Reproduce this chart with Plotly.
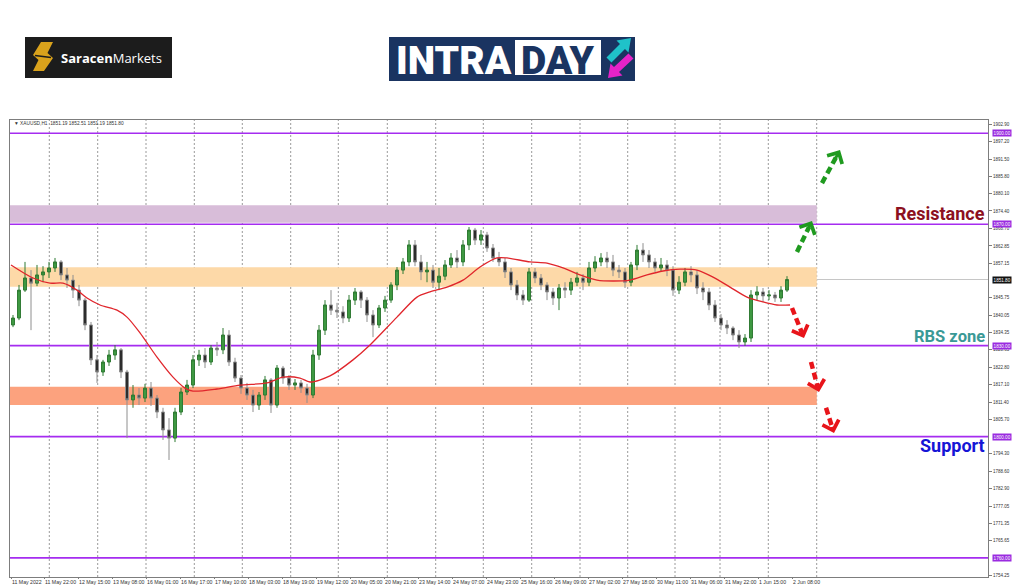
import plotly.graph_objects as go

# ------------------------------------------------------------------ data
# candles (one candle per 3 hourly bars), position on the hourly-bar axis
bar_index = list(range(1, 389, 3))
open_ = [1836.8, 1839.1, 1848.3, 1852.3, 1850.6, 1853.3, 1854.3, 1855.6, 1857.6, 1853.3,
         1851.6, 1848.3, 1845.0, 1836.8, 1825.3, 1821.3, 1824.6, 1826.9, 1828.6, 1821.3,
         1812.1, 1813.7, 1812.7, 1816.0, 1812.7, 1808.1, 1802.2, 1799.5, 1808.1, 1814.7,
         1817.0, 1825.3, 1826.9, 1824.6, 1829.2, 1828.6, 1833.5, 1824.6, 1819.3, 1816.0,
         1813.7, 1810.4, 1813.7, 1818.7, 1810.4, 1822.6, 1819.3, 1817.0, 1817.7, 1816.0,
         1813.7, 1826.9, 1835.1, 1843.4, 1841.7, 1841.1, 1839.1, 1845.0, 1847.7, 1845.0,
         1840.1, 1836.8, 1842.4, 1845.0, 1850.0, 1854.9, 1857.6, 1863.2, 1857.6, 1854.3,
         1854.9, 1850.9, 1852.9, 1856.6, 1858.9, 1857.6, 1863.2, 1868.1, 1864.8, 1866.5,
         1862.2, 1858.9, 1857.6, 1854.3, 1850.0, 1846.7, 1845.0, 1854.3, 1852.3, 1850.0,
         1847.7, 1845.7, 1849.0, 1848.3, 1850.9, 1852.3, 1850.9, 1855.6, 1857.6, 1858.9,
         1857.6, 1854.9, 1854.3, 1850.9, 1856.6, 1861.5, 1859.9, 1857.6, 1855.6, 1856.6,
         1854.9, 1848.3, 1850.9, 1854.3, 1853.3, 1849.0, 1847.7, 1843.4, 1839.1, 1836.8,
         1835.8, 1833.5, 1831.2, 1832.5, 1846.7, 1847.7, 1846.4, 1846.7, 1845.7, 1848.3]
high = [1840.1, 1850.0, 1857.6, 1854.9, 1856.6, 1856.2, 1857.6, 1858.9, 1858.2, 1855.6,
        1853.3, 1850.0, 1845.7, 1837.8, 1826.9, 1825.3, 1828.6, 1830.2, 1829.2, 1822.0,
        1817.0, 1816.0, 1817.4, 1818.0, 1813.7, 1809.5, 1806.1, 1809.5, 1816.0, 1818.7,
        1826.9, 1828.6, 1829.2, 1830.2, 1831.2, 1835.8, 1835.1, 1826.0, 1820.3, 1817.7,
        1815.4, 1814.7, 1820.0, 1819.3, 1823.6, 1823.3, 1820.3, 1819.0, 1818.7, 1817.4,
        1828.6, 1836.8, 1845.0, 1848.3, 1844.1, 1843.0, 1846.7, 1849.0, 1848.3, 1846.0,
        1841.7, 1843.4, 1846.4, 1850.9, 1855.9, 1858.9, 1864.8, 1864.8, 1859.9, 1857.6,
        1856.6, 1855.6, 1858.2, 1860.5, 1861.5, 1864.8, 1869.1, 1868.8, 1868.1, 1867.5,
        1863.5, 1860.9, 1858.9, 1855.6, 1851.6, 1848.3, 1855.6, 1855.6, 1853.6, 1850.9,
        1849.0, 1850.3, 1850.9, 1852.3, 1854.3, 1853.6, 1857.6, 1859.5, 1860.5, 1860.9,
        1859.9, 1856.6, 1855.6, 1857.6, 1863.2, 1863.8, 1861.5, 1858.9, 1858.9, 1858.2,
        1856.2, 1852.9, 1855.6, 1856.2, 1854.9, 1850.9, 1849.0, 1845.0, 1840.4, 1838.4,
        1836.4, 1835.1, 1833.8, 1848.3, 1849.6, 1849.0, 1848.3, 1847.7, 1849.6, 1852.9]
low = [1836.1, 1838.4, 1847.7, 1835.1, 1849.6, 1850.9, 1852.3, 1854.3, 1851.6, 1849.0,
       1845.7, 1843.0, 1835.1, 1823.6, 1817.7, 1820.0, 1823.3, 1825.3, 1819.3, 1799.5,
       1809.5, 1810.4, 1811.4, 1810.1, 1806.1, 1798.9, 1792.3, 1798.2, 1807.1, 1813.7,
       1816.0, 1823.3, 1822.6, 1823.6, 1826.6, 1827.2, 1823.3, 1818.0, 1814.1, 1812.1,
       1808.1, 1808.8, 1812.1, 1807.8, 1809.5, 1817.4, 1815.4, 1815.4, 1814.4, 1811.1,
       1812.7, 1825.3, 1833.5, 1840.1, 1839.1, 1837.4, 1837.8, 1843.4, 1842.4, 1837.8,
       1832.8, 1835.8, 1841.1, 1844.1, 1848.3, 1853.6, 1856.2, 1856.2, 1851.6, 1850.9,
       1849.0, 1848.3, 1851.6, 1855.6, 1855.6, 1856.2, 1861.5, 1863.2, 1863.2, 1860.9,
       1857.6, 1856.2, 1852.3, 1848.3, 1845.0, 1843.4, 1844.4, 1850.6, 1848.3, 1845.0,
       1843.4, 1841.7, 1845.7, 1846.7, 1849.6, 1848.3, 1849.6, 1854.3, 1856.2, 1855.6,
       1852.9, 1852.3, 1849.0, 1849.6, 1854.9, 1857.6, 1855.6, 1854.3, 1854.3, 1852.9,
       1846.4, 1847.0, 1849.6, 1850.9, 1847.0, 1845.0, 1841.7, 1837.8, 1835.1, 1833.8,
       1831.8, 1829.2, 1829.9, 1831.2, 1845.0, 1844.4, 1845.0, 1844.4, 1844.4, 1847.7]
close = [1839.1, 1848.3, 1852.3, 1850.6, 1853.3, 1854.3, 1855.6, 1857.6, 1853.3, 1851.6,
         1848.3, 1845.0, 1836.8, 1825.3, 1821.3, 1824.6, 1826.9, 1828.6, 1821.3, 1812.1,
         1813.7, 1812.7, 1816.0, 1812.7, 1808.1, 1802.2, 1799.5, 1808.1, 1814.7, 1817.0,
         1825.3, 1826.9, 1824.6, 1829.2, 1828.6, 1833.5, 1824.6, 1819.3, 1816.0, 1813.7,
         1810.4, 1813.7, 1818.7, 1810.4, 1822.6, 1819.3, 1817.0, 1817.7, 1816.0, 1813.7,
         1826.9, 1835.1, 1843.4, 1841.7, 1841.1, 1839.1, 1845.0, 1847.7, 1845.0, 1840.1,
         1836.8, 1842.4, 1845.0, 1850.0, 1854.9, 1857.6, 1863.2, 1857.6, 1854.3, 1854.9,
         1850.9, 1852.9, 1856.6, 1858.9, 1857.6, 1863.2, 1868.1, 1864.8, 1866.5, 1862.2,
         1858.9, 1857.6, 1854.3, 1850.0, 1846.7, 1845.0, 1854.3, 1852.3, 1850.0, 1847.7,
         1845.7, 1849.0, 1848.3, 1850.9, 1852.3, 1850.9, 1855.6, 1857.6, 1858.9, 1857.6,
         1854.9, 1854.3, 1850.9, 1856.6, 1861.5, 1859.9, 1857.6, 1855.6, 1856.6, 1854.9,
         1848.3, 1850.9, 1854.3, 1853.3, 1849.0, 1847.7, 1843.4, 1839.1, 1836.8, 1835.8,
         1833.5, 1831.2, 1832.5, 1846.7, 1847.7, 1846.4, 1846.7, 1845.7, 1848.3, 1851.8]

# moving average (red line)
ma_index = [0, 11, 19.5, 26, 33, 38, 44.5, 53, 58, 64.5, 73, 81, 87, 91, 103, 114.5,
            128, 136, 144.5, 149.5, 159.5, 171, 179.5, 193, 203, 209.5, 218, 226,
            234.5, 243, 248, 259.5, 268, 276, 284.5, 293, 301, 309.5, 318, 326,
            334.5, 343, 351, 359.5, 368, 376, 383, 389.5]
ma_value = [1856.6, 1852.3, 1850.6, 1850.6, 1848.3, 1845.7, 1843.4, 1841.7, 1839.4, 1834.2,
            1826.2, 1819.6, 1816.0, 1815.0, 1815.7, 1817.0, 1817.7, 1819.6, 1819.3, 1818.0,
            1820.0, 1825.3, 1830.2, 1839.4, 1846.0, 1847.7, 1849.3, 1851.6, 1855.9, 1858.9,
            1858.9, 1857.6, 1857.2, 1855.6, 1853.3, 1851.6, 1851.3, 1851.6, 1853.3, 1854.6,
            1855.2, 1854.9, 1852.6, 1849.3, 1846.0, 1844.4, 1843.4, 1843.4]

x_tick_labels = ["11 May 2022", "11 May 22:00", "12 May 15:00", "13 May 08:00", "16 May 01:00",
                 "16 May 17:00", "17 May 10:00", "18 May 03:00", "18 May 19:00", "19 May 12:00",
                 "20 May 05:00", "20 May 21:00", "23 May 14:00", "24 May 07:00", "24 May 23:00",
                 "25 May 16:00", "26 May 09:00", "27 May 02:00", "27 May 18:00", "30 May 11:00",
                 "31 May 06:00", "31 May 22:00", "1 Jun 15:00", "2 Jun 08:00"]
y_tick_values = [1902.90, 1897.20, 1891.50, 1885.80, 1880.10, 1874.40, 1868.70, 1862.85,
                 1857.15, 1845.75, 1840.05, 1834.35, 1828.65, 1822.80, 1817.10, 1811.40,
                 1805.70, 1794.30, 1788.60, 1782.90, 1777.05, 1771.35, 1765.65, 1754.25]

level_prices = [1900.00, 1870.00, 1830.00, 1800.00, 1760.00]
last_price = 1851.80
header_text = "▼ XAUUSD,H1  1851.19 1852.51 1851.19 1851.80"

zone_low = [1870.5, 1849.4, 1810.4]
zone_high = [1876.3, 1855.8, 1816.4]
zone_colors = ["#d8bdd9", "#fdd9a8", "#fca27e"]
zone_end = 402.9

arrow_tail_x = [393.0, 405.5, 390.5, 400.0, 407.5]
arrow_tail_y = [1860.9, 1883.6, 1842.4, 1824.6, 1809.5]
arrow_head_x = [400.5, 414.5, 396.5, 404.0, 411.5]
arrow_head_y = [1871.1, 1894.5, 1832.5, 1814.7, 1801.2]
arrow_colors = ["#1f9a1f", "#1f9a1f", "#e8141a", "#e8141a", "#e8141a"]

zone_labels = ["Resistance", "RBS zone", "Support"]
zone_label_price = [1873.4, 1833.0, 1797.0]
zone_label_colors = ["#8c1020", "#3a9996", "#1515d6"]
zone_label_sizes = [18, 16.5, 18]

# ------------------------------------------------------------------ layout helpers
# the page body has an 8px margin, so the figure is drawn 8px smaller and
# everything is positioned in reference-picture pixels relative to the plot area
OFF = 8
W, H = 1024, 587
L, R, T, B = 10, 36, 120, 10
PW, PH = W - L - R, H - T - B


def PX(x):
    return (x - L) / PW


def PY(y):
    return (H - B - y) / PH


grid_x = [19.15, 43.35, 67.5, 91.65, 115.65, 139.85, 163.65, 188.15, 212.35, 236.15,
          260.35, 284.5, 308.35, 332.0, 354.5, 378.65, 402.85]

fig = go.Figure()

fig.add_trace(go.Candlestick(
    x=bar_index, open=open_, high=high, low=low, close=close,
    increasing=dict(fillcolor="#3f9a43", line=dict(color="#2f7a33", width=1)),
    decreasing=dict(fillcolor="#2b2b2b", line=dict(color="#8e8e8e", width=1)),
    whiskerwidth=0, showlegend=False, hoverinfo="skip"))

fig.add_trace(go.Scatter(
    x=ma_index, y=ma_value, mode="lines",
    line=dict(color="#e0262c", width=1.3, shape="spline", smoothing=0.8),
    showlegend=False, hoverinfo="skip"))

shapes = []
for lo, hi, col in zip(zone_low, zone_high, zone_colors):
    shapes.append(dict(type="rect", xref="x", yref="y", x0=-0.5, x1=zone_end, y0=lo, y1=hi,
                       fillcolor=col, line=dict(width=0), layer="below"))
for gx in grid_x:
    shapes.append(dict(type="line", xref="x", yref="paper", x0=gx, x1=gx, y0=0, y1=1,
                       line=dict(color="#9a9a9a", width=1, dash="2px,2px"), layer="below"))
shapes.append(dict(type="line", xref="paper", yref="y", x0=0, x1=1, y0=last_price, y1=last_price,
                   line=dict(color="#c6c6c6", width=1), layer="below"))
for lv in level_prices:
    shapes.append(dict(type="line", xref="paper", yref="y", x0=0, x1=1, y0=lv, y1=lv,
                       line=dict(color="#a52cf0", width=1.6), layer="below"))

annotations = []
# dashed arrows
for tx, ty, hx, hy, col in zip(arrow_tail_x, arrow_tail_y, arrow_head_x, arrow_head_y, arrow_colors):
    sx = tx + (hx - tx) * 0.8
    sy = ty + (hy - ty) * 0.8
    shapes.append(dict(type="line", xref="x", yref="y", x0=tx, y0=ty, x1=sx, y1=sy,
                       line=dict(color=col, width=4.5, dash="7px,4px"), layer="above"))
    bx = tx + (hx - tx) * 0.7
    by = ty + (hy - ty) * 0.7
    annotations.append(dict(x=hx, y=hy, ax=bx, ay=by, xref="x", yref="y", axref="x", ayref="y",
                            text="", showarrow=True, arrowhead=4, arrowsize=1.1, arrowwidth=3,
                            arrowcolor=col, standoff=0))

# zone labels
for txt, pr, col, sz in zip(zone_labels, zone_label_price, zone_label_colors, zone_label_sizes):
    annotations.append(dict(x=PX(987), y=pr, xref="paper", yref="y", xanchor="right",
                            yanchor="middle", text="<b>%s</b>" % txt, showarrow=False,
                            font=dict(family="Roboto", size=sz, color=col)))

# price boxes on the right axis
for lv in level_prices:
    annotations.append(dict(x=PX(992), y=lv, xref="paper", yref="y", xanchor="left",
                            yanchor="middle", text="%.2f" % lv, showarrow=False,
                            bgcolor="#9a2be0", borderpad=0.6,
                            font=dict(family="Liberation Sans", size=4.6, color="white")))
annotations.append(dict(x=PX(992), y=last_price, xref="paper", yref="y", xanchor="left",
                        yanchor="middle", text="%.2f" % last_price, showarrow=False,
                        bgcolor="#111111", borderpad=0.6,
                        font=dict(family="Liberation Sans", size=4.6, color="white")))

# header
annotations.append(dict(x=PX(12), y=PY(123.5), xref="paper", yref="paper", xanchor="left",
                        yanchor="middle", text=header_text, showarrow=False,
                        font=dict(family="Liberation Sans", size=4.8, color="#333333")))

# ---------------- logos
shapes.append(dict(type="rect", xref="paper", yref="paper", x0=PX(25), x1=PX(172),
                   y0=PY(78), y1=PY(37), fillcolor="#1c1c1c", line=dict(width=0), layer="above"))


def path(points):
    return "M " + " L ".join("%.5f,%.5f" % (PX(a), PY(b)) for a, b in points) + " Z"


s_pts = [(41, 42), (53, 42), (47.5, 53), (53, 58), (44, 71), (33, 71), (38.5, 60), (33, 55)]
shapes.append(dict(type="path", xref="paper", yref="paper", path=path(s_pts),
                   fillcolor="#d9a21c", line=dict(width=0), layer="above"))
shapes.append(dict(type="line", xref="paper", yref="paper", x0=PX(35), y0=PY(55.5),
                   x1=PX(51), y1=PY(57.5), line=dict(color="#1c1c1c", width=1.5), layer="above"))
annotations.append(dict(x=PX(111.5), y=PY(57.5), xref="paper", yref="paper", xanchor="center",
                        yanchor="middle", text="<b>Saracen</b>Markets", showarrow=False,
                        font=dict(family="Open Sans", size=13, color="white")))

shapes.append(dict(type="rect", xref="paper", yref="paper", x0=PX(389), x1=PX(635),
                   y0=PY(81), y1=PY(37), fillcolor="#1a3461", line=dict(width=0), layer="above"))
shapes.append(dict(type="rect", xref="paper", yref="paper", x0=PX(515), x1=PX(601),
                   y0=PY(75), y1=PY(40), fillcolor="#ffffff", line=dict(width=0), layer="above"))
cyan_pts = [(631, 38), (628.5, 52.5), (625, 49), (611.5, 62.5), (606.5, 57.5), (620, 44), (616.5, 40.5)]
mag_pts = [(608, 78), (610.5, 63.5), (614, 67), (628.5, 53.5), (633.5, 58.5), (619, 72), (622.5, 75.5)]
shapes.append(dict(type="path", xref="paper", yref="paper", path=path(cyan_pts),
                   fillcolor="#1fc2c9", line=dict(width=0), layer="above"))
shapes.append(dict(type="path", xref="paper", yref="paper", path=path(mag_pts),
                   fillcolor="#e523c8", line=dict(width=0), layer="above"))
annotations.append(dict(x=PX(453.5), y=PY(61), xref="paper", yref="paper", xanchor="center",
                        yanchor="middle", text="INTRA", showarrow=False,
                        font=dict(family="Roboto", size=39, color="white", weight=900)))
annotations.append(dict(x=PX(558), y=PY(61), xref="paper", yref="paper", xanchor="center",
                        yanchor="middle", text="DAY", showarrow=False,
                        font=dict(family="Roboto", size=39, color="#1a3461", weight=900)))

x_tick_pos = [0] + [16.5 + 17 * k for k in range(len(x_tick_labels) - 1)]

fig.update_layout(
    width=W - OFF, height=H - OFF,
    margin=dict(l=L - OFF, r=R, t=T - OFF, b=B, autoexpand=False),
    paper_bgcolor="white", plot_bgcolor="white",
    shapes=shapes, annotations=annotations, showlegend=False,
    xaxis=dict(range=[-0.5, 488.5], rangeslider=dict(visible=False), showgrid=False,
               zeroline=False, showline=True, mirror=True, linecolor="#7d7d7d", linewidth=1,
               tickvals=x_tick_pos, ticktext=x_tick_labels, tickangle=0,
               ticklabelposition="outside right", ticks="outside", ticklen=1,
               tickcolor="#7d7d7d", automargin=False,
               tickfont=dict(family="Liberation Sans", size=5.2, color="#333333")),
    yaxis=dict(range=[1753.71, 1904.39], side="right", showgrid=False, zeroline=False,
               showline=True, mirror=True, linecolor="#7d7d7d", linewidth=1,
               tickvals=y_tick_values, tickformat=".2f", ticks="outside", ticklen=3,
               tickcolor="#7d7d7d", automargin=False,
               tickfont=dict(family="Liberation Sans", size=4.5, color="#333333")),
)

fig.write_html("out.html")
